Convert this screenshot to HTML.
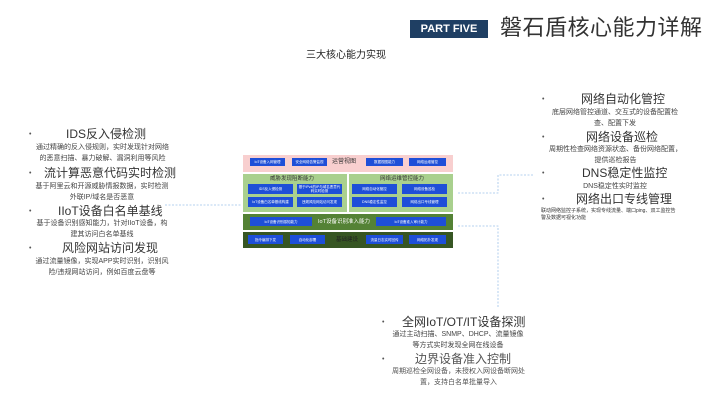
<!DOCTYPE html>
<html><head><meta charset="utf-8"><style>
body{margin:0;width:720px;height:405px;background:#fff;position:relative;overflow:hidden;font-family:"Liberation Sans","Noto Sans CJK SC",sans-serif;color:#333}
.a{position:absolute}
.b{position:absolute;background:#1e4fd8;color:#fff;font-size:3.5px;display:flex;align-items:center;justify-content:center;text-align:center;line-height:4px}
.t{position:absolute;text-align:center;white-space:nowrap}
.h{font-size:12px;color:#333;line-height:13px}
.d{font-size:7px;color:#444;line-height:11px}
.dot{position:absolute;font-size:7px;color:#555;line-height:8px}
</style></head><body>
<div class="a" style="left:410px;top:20px;width:78px;height:18px;background:#1f3f63;color:#fff;font-size:11px;font-weight:bold;display:flex;align-items:center;justify-content:center">PART FIVE</div>
<div class="t" style="left:500px;top:13px;font-size:22px;color:#333;letter-spacing:0.5px;line-height:30px">磐石盾核心能力详解</div>
<div class="t" style="left:306px;top:49px;font-size:10px;color:#222;line-height:14px">三大核心能力实现</div>

<div class="a" style="left:243px;top:155px;width:210px;height:17px;background:#f8cfcf"></div>
<div class="b" style="left:250px;top:158px;width:35px;height:8px">IoT设备入网管理</div>
<div class="b" style="left:292px;top:158px;width:35px;height:8px">安全网络告警监视</div>
<div class="t" style="left:332px;top:158px;font-size:6px;color:#333;line-height:9px">运营视图</div>
<div class="b" style="left:366px;top:158px;width:37px;height:8px">数据视图能力</div>
<div class="b" style="left:409px;top:158px;width:37px;height:8px">网络运维管控</div>

<div class="a" style="left:243px;top:174px;width:104px;height:38px;background:#a9d08e"></div>
<div class="t" style="left:270px;top:176px;font-size:5.5px;line-height:7px">威胁发现阻断能力</div>
<div class="b" style="left:248px;top:184px;width:45px;height:10px">IDS反入侵检测</div>
<div class="b" style="left:297px;top:184px;width:45px;height:10px">基于iPv4的IP与域名恶意代码实时检测</div>
<div class="b" style="left:248px;top:197px;width:45px;height:10px">IoT设备白名单基线构建</div>
<div class="b" style="left:297px;top:197px;width:45px;height:10px">违规风险网站访问发现</div>

<div class="a" style="left:349px;top:174px;width:104px;height:38px;background:#a9d08e"></div>
<div class="t" style="left:380px;top:176px;font-size:5.5px;line-height:7px">网络运维管控能力</div>
<div class="b" style="left:352px;top:184px;width:45px;height:10px">网络自动化管控</div>
<div class="b" style="left:402px;top:184px;width:45px;height:10px">网络设备巡检</div>
<div class="b" style="left:352px;top:197px;width:45px;height:10px">DNS稳定性监控</div>
<div class="b" style="left:402px;top:197px;width:45px;height:10px">网络出口专线管理</div>

<div class="a" style="left:243px;top:214px;width:210px;height:16px;background:#548235"></div>
<div class="b" style="left:250px;top:217px;width:62px;height:9px">IoT设备识别感知能力</div>
<div class="t" style="left:318px;top:218px;font-size:5.5px;color:#fff;line-height:8px">IoT设备识别准入能力</div>
<div class="b" style="left:376px;top:217px;width:70px;height:9px">IoT设备准入审计能力</div>

<div class="a" style="left:243px;top:232px;width:210px;height:16px;background:#375623"></div>
<div class="b" style="left:248px;top:235px;width:35px;height:9px">指令编排下发</div>
<div class="b" style="left:290px;top:235px;width:35px;height:9px">自动化部署</div>
<div class="t" style="left:336px;top:236px;font-size:5.5px;color:#222;line-height:8px">基础建设</div>
<div class="b" style="left:366px;top:235px;width:37px;height:9px">流量日志实时回传</div>
<div class="b" style="left:409px;top:235px;width:37px;height:9px">网络拓扑发现</div>

<svg class="a" style="left:0;top:0" width="720" height="405">
<g stroke="#9fc3ea" stroke-width="0.8" stroke-dasharray="2,1.5" fill="none">
<path d="M165 205 H242"/>
<path d="M458 193 H498 V175 H533"/>
<path d="M458 226 H498 V307"/>
</g></svg>

<div class="dot" style="left:29px;top:131px">•</div>
<div class="t h" style="left:66px;top:128px">IDS反入侵检测</div>
<div class="t d" style="left:30px;top:142px;width:145px">通过精确的反入侵规则，实时发现针对网络<br>的恶意扫描、暴力破解、漏洞利用等风险</div>
<div class="dot" style="left:29px;top:170px">•</div>
<div class="t h" style="left:44px;top:167px">流计算恶意代码实时检测</div>
<div class="t d" style="left:27px;top:181px;width:150px">基于阿里云和开源威胁情报数据，实时检测<br>外联IP/域名是否恶意</div>
<div class="dot" style="left:29px;top:208px">•</div>
<div class="t h" style="left:58px;top:205px">IIoT设备白名单基线</div>
<div class="t d" style="left:27px;top:218px;width:150px">基于设备识别感知能力，针对IIoT设备，构<br>建其访问白名单基线</div>
<div class="dot" style="left:29px;top:245px">•</div>
<div class="t h" style="left:62px;top:242px">风险网站访问发现</div>
<div class="t d" style="left:27px;top:256px;width:150px">通过流量镜像，实现APP实时识别，识别风<br>险/违规网站访问，例如百度云盘等</div>

<div class="dot" style="left:542px;top:96px">•</div>
<div class="t h" style="left:581px;top:93px">网络自动化管控</div>
<div class="t d" style="left:540px;top:107px;width:150px">底层网络管控通道、交互式的设备配置检<br>查、配置下发</div>
<div class="dot" style="left:542px;top:134px">•</div>
<div class="t h" style="left:586px;top:131px">网络设备巡检</div>
<div class="t d" style="left:538px;top:144px;width:155px">周期性检查网络资源状态、备份网络配置，<br>提供巡检报告</div>
<div class="dot" style="left:542px;top:170px">•</div>
<div class="t h" style="left:582px;top:167px">DNS稳定性监控</div>
<div class="t d" style="left:540px;top:181px;width:150px">DNS稳定性实时监控</div>
<div class="dot" style="left:542px;top:196px">•</div>
<div class="t h" style="left:576px;top:193px">网络出口专线管理</div>
<div class="a" style="left:541px;top:208px;font-size:5px;line-height:7px;color:#333">联动网络监控子系统，实现专线流量、端口ping、双工监控告<br>警及数据可视化功能</div>

<div class="dot" style="left:382px;top:319px">•</div>
<div class="t h" style="left:402px;top:316px">全网IoT/OT/IT设备探测</div>
<div class="t d" style="left:383px;top:329px;width:150px">通过主动扫描、SNMP、DHCP、流量镜像<br>等方式实时发现全网在线设备</div>
<div class="dot" style="left:382px;top:356px">•</div>
<div class="t h" style="left:415px;top:353px;color:#555">边界设备准入控制</div>
<div class="t d" style="left:381px;top:366px;width:155px;color:#555">周期巡检全网设备，未授权入网设备断网处<br>置，支持白名单批量导入</div>
</body></html>
